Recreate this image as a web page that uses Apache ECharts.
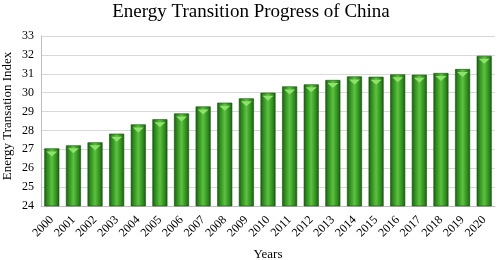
<!DOCTYPE html>
<html>
<head>
<meta charset="utf-8">
<script src="https://cdn.jsdelivr.net/npm/echarts@6/dist/echarts.min.js"></script>
<style>
  html, body { margin: 0; padding: 0; background: #fff; }
  #chart { width: 498px; height: 260px; }
</style>
</head>
<body>
<div id="chart"></div>
<script>
// data
var years = ['2000', '2001', '2002', '2003', '2004', '2005', '2006', '2007', '2008', '2009', '2010',
  '2011', '2012', '2013', '2014', '2015', '2016', '2017', '2018', '2019', '2020'];
var indexValues = [27.05, 27.21, 27.37, 27.83, 28.32, 28.59, 28.9, 29.27, 29.47, 29.7, 30.0,
  30.33, 30.44, 30.67, 30.86, 30.84, 30.97, 30.95, 31.04, 31.25, 31.95];
var yMin = 24;
var yMax = 33;

var FONT = '"Liberation Serif", "DejaVu Serif", serif';

var chart = echarts.init(document.getElementById('chart'));

// horizontal gradient gives the rounded, shaded bar look
var barFill = new echarts.graphic.LinearGradient(0, 0, 1, 0, [
  { offset: 0, color: '#1b5a11' },
  { offset: 0.18, color: '#2e8a1e' },
  { offset: 0.5, color: '#5cc23f' },
  { offset: 0.82, color: '#2e8a1e' },
  { offset: 1, color: '#1b5a11' }
]);

chart.setOption({
  animation: false,
  title: {
    text: 'Energy Transition Progress of China',
    left: 246,
    top: -2,
    textAlign: 'center',
    textStyle: { fontFamily: FONT, fontSize: 19, fontWeight: 'normal', color: '#000' }
  },
  // y axis title, placed by hand next to the tick labels
  graphic: [{
    type: 'text',
    x: 8,
    y: 116,
    rotation: Math.PI / 2,
    style: {
      text: 'Energy Transation Index',
      fontFamily: FONT,
      fontSize: 13,
      fill: '#000',
      align: 'center',
      verticalAlign: 'middle'
    }
  }],
  grid: { left: 41, right: 3, top: 36, bottom: 54, outerBoundsMode: 'none' },
  xAxis: {
    type: 'category',
    data: years,
    name: 'Years',
    nameLocation: 'middle',
    nameGap: 42,
    nameTextStyle: { fontFamily: FONT, fontSize: 13, color: '#000' },
    axisLine: { lineStyle: { color: '#bfbfbf' } },
    axisTick: { show: false },
    axisLabel: { rotate: 45, interval: 0, fontFamily: FONT, fontSize: 12, color: '#000', margin: 12 }
  },
  yAxis: {
    type: 'value',
    min: yMin,
    max: yMax,
    interval: 1,
    axisLine: { show: true, lineStyle: { color: '#bfbfbf' } },
    axisTick: { show: false },
    axisLabel: { fontFamily: FONT, fontSize: 12, color: '#000', margin: 7 },
    splitLine: { lineStyle: { color: '#d9d9d9' } }
  },
  series: [
    {
      type: 'bar',
      data: indexValues,
      barWidth: 15,
      itemStyle: { color: barFill, borderColor: '#17500e', borderWidth: 0.6 }
    },
    {
      // light chevron cap at the top of each bar
      type: 'pictorialBar',
      data: indexValues,
      symbol: 'triangle',
      symbolRotate: 180,
      symbolSize: [11, 5],
      symbolPosition: 'end',
      symbolOffset: [0, 3],
      barGap: '-100%',
      z: 3,
      itemStyle: { color: '#8ee26a' }
    }
  ]
});
</script>
</body>
</html>
